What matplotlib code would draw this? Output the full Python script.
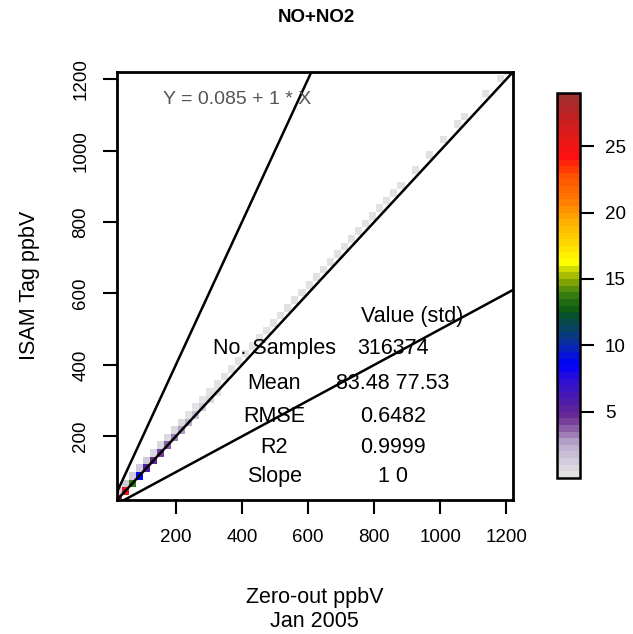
import numpy as np
import matplotlib
matplotlib.use("Agg")
import matplotlib.pyplot as plt
from matplotlib.colors import LinearSegmentedColormap, Normalize

plt.rcParams['font.family'] = ['Liberation Sans', 'DejaVu Sans']

# bin layout (both axes share the same bins)
bin_start = 14.6
bin_width = 21.4
n_bins = 57

# counts along the 1:1 diagonal, cell (i, i)
diag_vals = [28, 25, 13.8, 8.5, 5.5, 4.5, 4, 3.5, 3, 2.5, 2, 1.5, 1.2, 0.8, 0.3]
# cells just above the diagonal, cell (i, i+1)
upper_idx = list(range(0, 41)) + [42, 44, 46, 48, 49, 52, 54, 55]
upper_vals = [1.2, 1.2, 1.2, 1, 1, 0.8, 0.8, 0.6, 0.6, 0.6] + [0.3] * 31 + [0.3] * 8

title = "NO+NO2"
xlabel = "Zero-out ppbV"
period = "Jan 2005"
ylabel = "ISAM Tag ppbV"
fit_text = "Y = 0.085 + 1 * X"
stat_names = ["No. Samples", "Mean", "RMSE", "R2", "Slope"]
stat_values = ["316374", "83.48 77.53", "0.6482", "0.9999", "1 0"]
ref_slopes = [0.5, 1, 2]

edges = bin_start + bin_width * np.arange(n_bins + 1)
grid = np.zeros((n_bins, n_bins))
for i, v in enumerate(diag_vals):
    grid[i, i] = v
for i, v in zip(upper_idx, upper_vals):
    if i + 1 < n_bins:
        grid[i + 1, i] = v
grid = np.ma.masked_equal(grid, 0)

stops = [
    (0.0, "#e2e2e2"), (0.5 / 29, "#dcd8e0"), (2.4 / 29, "#b8a8cc"),
    (3.6 / 29, "#8a5aa8"), (4.4 / 29, "#6a2a90"), (5.9 / 29, "#4a18b0"),
    (7.4 / 29, "#2a10d8"), (8.4 / 29, "#0000ff"), (9.9 / 29, "#0a28b0"),
    (10.9 / 29, "#083e70"), (11.9 / 29, "#084a40"), (12.6 / 29, "#0a5a10"),
    (13.9 / 29, "#3a8010"), (14.9 / 29, "#8aa800"), (15.6 / 29, "#c0d000"),
    (16.3 / 29, "#ffff00"), (17.4 / 29, "#ffe000"), (19.4 / 29, "#ffb000"),
    (21.1 / 29, "#ff7800"), (22.9 / 29, "#ff5000"), (24.4 / 29, "#ff1010"),
    (25.7 / 29, "#e81818"), (27.4 / 29, "#c02020"), (1.0, "#a03030"),
]
cmap = LinearSegmentedColormap.from_list("isam", stops, N=58)

fig = plt.figure(figsize=(6.33, 6.34), dpi=100)
ax = fig.add_axes([0.1848, 0.2114, 0.6256, 0.675])

mesh = ax.pcolormesh(edges, edges, grid, cmap=cmap, norm=Normalize(0, 29))
for s in ref_slopes:
    ax.axline((0, 0), slope=s, color="black", lw=1.8)

ax.set_xlim(22, 1220)
ax.set_ylim(22, 1220)
ax.set_xticks([200, 400, 600, 800, 1000, 1200])
ax.set_yticks([200, 400, 600, 800, 1000, 1200])
ax.tick_params(axis="both", direction="out", length=10, width=1.5, labelsize=13.5)
ax.tick_params(axis="x", pad=11)
ax.tick_params(axis="y", pad=10, labelrotation=90)
plt.setp(ax.get_yticklabels(), va="center")
for sp in ax.spines.values():
    sp.set_linewidth(2)

ax.text(386, 1130, fit_text, ha="center", va="baseline", fontsize=14, color="#555555")

ax.text(916, 519, "Value (std)", ha="center", va="baseline", fontsize=15.5)
row_y = [430, 332, 240, 153, 71]
for name, val, y in zip(stat_names, stat_values, row_y):
    ax.text(498, y, name, ha="center", va="baseline", fontsize=15.5)
    ax.text(856, y, val, ha="center", va="baseline", fontsize=15.5)

fig.text(0.4995, 0.973, title, ha="center", va="center", fontsize=13.5, fontweight="bold")
fig.text(0.497, 0.057, xlabel, ha="center", va="center", fontsize=15.5)
fig.text(0.497, 0.0205, period, ha="center", va="center", fontsize=15.5)
fig.text(0.047, 0.55, ylabel, ha="center", va="center", rotation=90, fontsize=15.5)

cax = fig.add_axes([0.88, 0.246, 0.0363, 0.607])
cb = fig.colorbar(mesh, cax=cax, ticks=[5, 10, 15, 20, 25])
cb.outline.set_linewidth(1.8)
cax.tick_params(direction="out", length=10, width=1.5, labelsize=13.5, pad=8)

fig.savefig("out.png", dpi=100)
